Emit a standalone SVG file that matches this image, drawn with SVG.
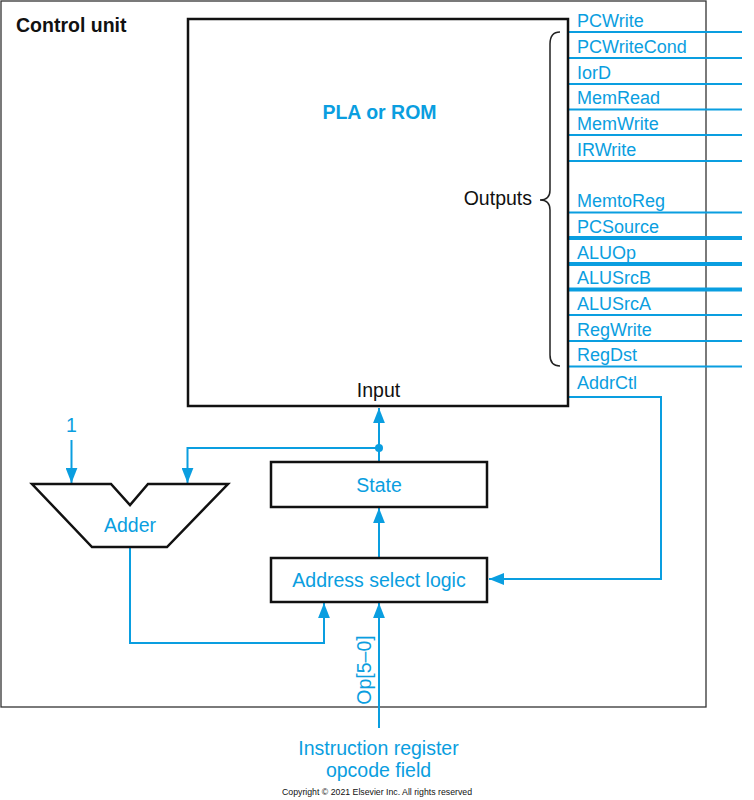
<svg xmlns="http://www.w3.org/2000/svg" width="754" height="800" viewBox="0 0 754 800">
<style>
text{font-family:"Liberation Sans",Arial,sans-serif}
.b{fill:#0a9ee0}
.k{fill:#111}
.o{font-size:18px;fill:#0a9ee0}
.m{font-size:19.5px}
.box{fill:#fff;stroke:#111;stroke-width:2.5}
.w{fill:none;stroke:#0a9ee0;stroke-width:2}
.wt{fill:none;stroke:#0a9ee0;stroke-width:4}
</style>
<defs>
<marker id="ah" markerUnits="userSpaceOnUse" markerWidth="15" markerHeight="12" refX="14" refY="5.5" orient="auto" viewBox="0 0 14 11">
<path d="M0,0 L14,5.5 L0,11 z" fill="#0a9ee0"/>
</marker>
</defs>
<rect x="1" y="1" width="705" height="706" fill="#fff" stroke="#333" stroke-width="1.3"/>
<text x="16" y="32" class="k" style="font-size:19.5px;font-weight:bold">Control unit</text>

<g id="connectors">
<g class="w">
<line x1="568" y1="32" x2="742" y2="32"/>
<line x1="568" y1="58" x2="742" y2="58"/>
<line x1="568" y1="84" x2="742" y2="84"/>
<line x1="568" y1="109.5" x2="742" y2="109.5"/>
<line x1="568" y1="135" x2="742" y2="135"/>
<line x1="568" y1="161" x2="742" y2="161"/>
<line x1="568" y1="212.5" x2="742" y2="212.5"/>
<line x1="568" y1="315" x2="742" y2="315"/>
<line x1="568" y1="341" x2="742" y2="341"/>
<line x1="568" y1="366.5" x2="742" y2="366.5"/>
</g>
<g class="wt">
<line x1="568" y1="238" x2="742" y2="238"/>
<line x1="568" y1="264" x2="742" y2="264"/>
<line x1="568" y1="289.5" x2="742" y2="289.5"/>
</g>
<path class="w" d="M568,397 H661 V579 H489" marker-end="url(#ah)"/>
<path class="w" d="M379,462 V408" marker-end="url(#ah)"/>
<path class="w" d="M379,448 H187.5 V483" marker-end="url(#ah)"/>
<circle cx="379" cy="448" r="4" fill="#0a9ee0"/>
<path class="w" d="M379,558 V508" marker-end="url(#ah)"/>
<path class="w" d="M71.5,440 V483" marker-end="url(#ah)"/>
<path class="w" d="M130,547 V643 H324 V603" marker-end="url(#ah)"/>
<path class="w" d="M379,728 V603" marker-end="url(#ah)"/>
</g>

<g id="pla">
<rect class="box" x="188" y="19" width="380" height="387"/>
<text x="379.5" y="119" class="b" text-anchor="middle" style="font-size:19.5px;font-weight:bold">PLA or ROM</text>
<text x="378.5" y="397" class="k m" text-anchor="middle">Input</text>
<text x="532" y="205" class="k m" text-anchor="end">Outputs</text>
<path d="M560,32 Q550,32 550,44 V190 Q550,200 540,200 Q550,200 550,210 V355 Q550,366 560,366" fill="none" stroke="#222" stroke-width="1.5"/>
</g>

<g id="outputs" class="o">
<text x="577" y="26.5" class="o">PCWrite</text>
<text x="577" y="52.5" class="o">PCWriteCond</text>
<text x="577" y="78.5" class="o">IorD</text>
<text x="577" y="104" class="o">MemRead</text>
<text x="577" y="129.5" class="o">MemWrite</text>
<text x="577" y="155.5" class="o">IRWrite</text>
<text x="577" y="207" class="o">MemtoReg</text>
<text x="577" y="232.5" class="o">PCSource</text>
<text x="577" y="258.5" class="o">ALUOp</text>
<text x="577" y="284" class="o">ALUSrcB</text>
<text x="577" y="309.5" class="o">ALUSrcA</text>
<text x="577" y="335.5" class="o">RegWrite</text>
<text x="577" y="361" class="o">RegDst</text>
<text x="577" y="389" class="o">AddrCtl</text>
</g>

<g id="state">
<rect class="box" x="271" y="462" width="216" height="45"/>
<text x="379" y="492" class="b m" text-anchor="middle">State</text>
</g>

<g id="address-select">
<rect class="box" x="271" y="558" width="216" height="44"/>
<text x="379" y="587" class="b m" text-anchor="middle">Address select logic</text>
</g>

<g id="adder">
<polygon points="32,484 111,484 130,505 148,484 228,484 167,547 92,547" fill="#fff" stroke="#111" stroke-width="2.5" stroke-linejoin="miter"/>
<text x="130" y="532" class="b m" text-anchor="middle">Adder</text>
</g>

<g id="one">
<text x="71.5" y="432" class="b m" text-anchor="middle">1</text>
</g>

<g id="op">
<text transform="translate(371,670) rotate(-90)" class="b m" text-anchor="middle">Op[5–0]</text>
</g>

<g id="ir">
<text x="378.5" y="755" class="b m" text-anchor="middle">Instruction register</text>
<text x="378.5" y="777" class="b m" text-anchor="middle">opcode field</text>
</g>
<text x="377" y="795" class="k" style="font-size:9.5px" text-anchor="middle" textLength="190" lengthAdjust="spacingAndGlyphs">Copyright © 2021 Elsevier Inc. All rights reserved</text>
</svg>
